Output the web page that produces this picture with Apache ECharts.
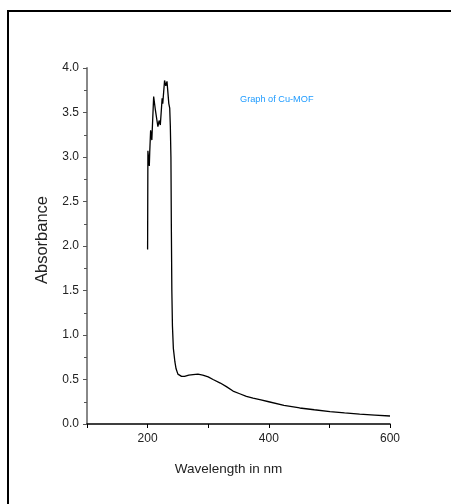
<!DOCTYPE html>
<html>
<head>
<meta charset="utf-8">
<script src="https://cdn.jsdelivr.net/npm/echarts@6/dist/echarts.min.js"></script>
<style>html,body{margin:0;padding:0;background:#fff;overflow:hidden;}#c{width:451px;height:504px;}</style>
</head>
<body>
<div id="c"></div>
<script>
const wavelengths = [200,200.5,202.8,203.5,205,207,210,213,217,219,221,224,225,228,230,232,235,236.5,237.5,238.5,239.2,240,241,242.5,245,247,250,253,256,261,268,275,283,291,300,308,320,330,341,352,363,374,387,400,425,451,475,501,525,550,575,600];
const absorbance  = [1.96,3.07,2.90,3.05,3.30,3.19,3.68,3.52,3.34,3.41,3.36,3.66,3.60,3.86,3.80,3.85,3.60,3.55,3.35,3.0,2.2,1.5,1.1,0.85,0.70,0.62,0.56,0.54,0.535,0.535,0.55,0.555,0.56,0.55,0.53,0.50,0.46,0.42,0.37,0.34,0.31,0.29,0.27,0.25,0.21,0.18,0.16,0.14,0.125,0.11,0.10,0.09];
const xLabels = [200,400,600];
const titleText = "Graph of Cu-MOF";
const xName = "Wavelength in nm";
const yName = "Absorbance";

const FONT = "'Liberation Sans',Arial,sans-serif";
const chart = echarts.init(document.getElementById('c'), null, {renderer:'canvas'});
chart.setOption({
  animation:false,
  backgroundColor:'#fff',
  graphic:[
    {type:'line',shape:{x1:7,y1:11,x2:451,y2:11},style:{stroke:'#000',lineWidth:2},silent:true},
    {type:'line',shape:{x1:8,y1:10,x2:8,y2:504},style:{stroke:'#000',lineWidth:2},silent:true}
  ],
  title:{text:titleText,left:235,top:90,textStyle:{fontFamily:FONT,fontSize:9.2,fontWeight:'normal',color:'#1e9bff'}},
  grid:{left:87,right:61,top:68,bottom:80,containLabel:false},
  xAxis:{type:'value',min:100,max:600,interval:100,
    name:xName,nameLocation:'middle',nameGap:38,
    nameTextStyle:{fontFamily:FONT,fontSize:13.5,color:'#222',padding:[0,20,0,0]},
    axisLine:{show:true,onZero:false,lineStyle:{color:'#000',width:1.5}},
    axisTick:{show:true,inside:false,length:4,lineStyle:{color:'#000',width:1}},
    axisLabel:{margin:9,fontFamily:FONT,fontSize:12,color:'#222',formatter:v=>xLabels.includes(v)?String(v):''},
    splitLine:{show:false}},
  yAxis:{type:'value',min:0,max:4,interval:0.5,
    name:yName,nameLocation:'middle',nameGap:26,
    nameTextStyle:{fontFamily:FONT,fontSize:16.5,color:'#222',padding:[0,0,0,12]},
    axisLine:{show:true,onZero:false,lineStyle:{color:'#888',width:2}},
    axisTick:{show:true,inside:false,length:4,lineStyle:{color:'#555',width:1}},
    minorTick:{show:true,splitNumber:2,length:3,lineStyle:{color:'#555',width:1}},
    axisLabel:{margin:8,fontFamily:FONT,fontSize:12,color:'#222',formatter:v=>v.toFixed(1)},
    splitLine:{show:false}},
  series:[{type:'line',data:wavelengths.map((w,i)=>[w,absorbance[i]]),showSymbol:false,smooth:false,
    lineStyle:{color:'#000',width:1.3}}]
});
</script>
</body>
</html>
